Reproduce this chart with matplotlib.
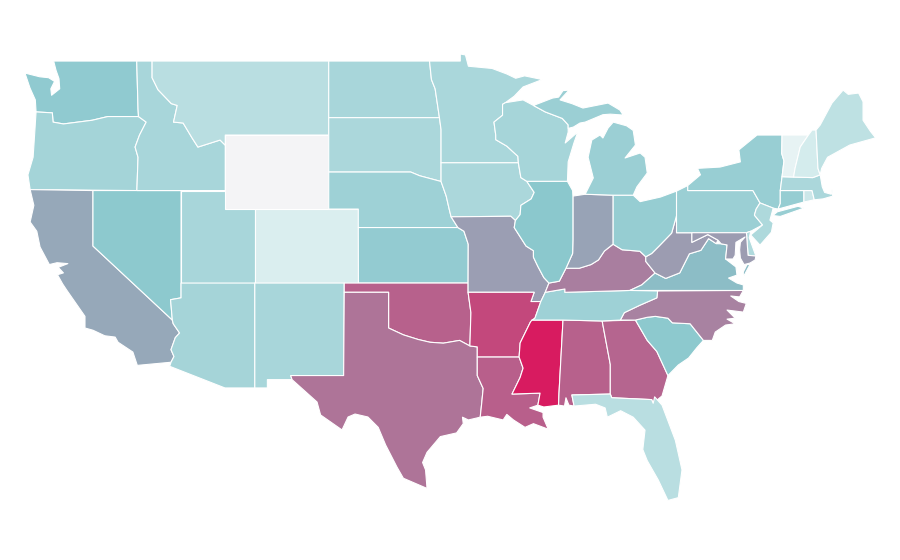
import matplotlib
matplotlib.use("Agg")
import matplotlib.pyplot as plt
from matplotlib.colors import LinearSegmentedColormap

# State values (0-100, estimated from the fill colours)
values = {
    "WA": 37, "OR": 30, "CA": 50.5, "ID": 28.5, "MT": 22, "WY": 0, "NV": 38, "UT": 28.5, "CO": 10,
    "AZ": 29.5, "NM": 28.5, "ND": 28.5, "SD": 27, "NE": 32, "KS": 36, "OK": 75, "TX": 68.5,
    "MN": 27.5, "IA": 27, "MO": 54, "AR": 84, "LA": 76, "MS": 100, "WI": 29, "IL": 39,
    "MI": 33, "IN": 52, "OH": 35, "KY": 65, "TN": 32, "AL": 75, "GA": 74, "FL": 22,
    "SC": 38, "NC": 64, "VA": 43, "WV": 55, "MD": 55, "DE": 25, "PA": 33, "NY": 34,
    "NJ": 26, "CT": 35, "RI": 15, "MA": 27, "VT": 5, "NH": 12, "ME": 20,
}

# State outlines as (longitude, latitude), drawn in a plate-carree style axes
outlines = {
    "WA": [[(-122.66,49),(-122.5,48.5),(-122.3,48.05),(-122.25,47.5),(-122.8,47.15),(-122.85,47.5),(-122.6,47.9),(-123.0,48.1),(-123.6,48.15),(-124.6,48.35),(-124.26,47.54),(-123.9,46.9),(-123.85,46.25),(-122.75,46.2),(-122.7,45.7),(-122.0,45.6),(-120.05,45.8),(-119.0,46.0),(-116.92,46.0),(-116.95,46.4),(-117.04,49)]],
    "OR": [[(-123.85,46.25),(-122.75,46.2),(-122.7,45.7),(-122.0,45.6),(-120.05,45.8),(-119.0,46.0),(-116.92,46.0),(-116.4,45.7),(-116.85,45.0),(-117.15,44.35),(-116.95,43.8),(-117.03,42),(-124.25,42.05),(-124.4,42.85),(-124.05,43.8),(-123.95,45)]],
    "CA": [[(-124.25,42.05),(-120,42),(-120,39),(-114.63,35.0),(-114.57,34.8),(-114.14,34.3),(-114.43,34.05),(-114.72,33.4),(-114.52,33.03),(-114.72,32.72),(-117.0,32.55),(-117.3,33.27),(-118.3,33.8),(-118.5,34.08),(-119.2,34.15),(-120.0,34.45),(-120.54,34.57),(-120.54,35.2),(-121.76,36.6),(-122.05,36.95),(-122.4,37.45),(-122.0,37.55),(-122.35,37.85),(-121.7,38.05),(-122.43,38.1),(-122.95,38.0),(-123.58,38.95),(-123.8,39.8),(-124.25,40.3),(-124.0,41.2)]],
    "NV": [[(-120,42),(-114.04,42),(-114.04,36.2),(-114.75,36.1),(-114.63,35.0),(-120,39)]],
    "ID": [[(-117.04,49),(-116.0,49),(-116.0,48.1),(-115.6,47.45),(-114.7,46.7),(-114.3,46.6),(-114.55,45.7),(-113.9,45.65),(-113.3,44.85),(-112.9,44.35),(-111.4,44.73),(-111.05,44.45),(-111.05,42),(-117.03,42),(-116.95,43.8),(-117.15,44.35),(-116.85,45.0),(-116.4,45.7),(-116.92,46.0),(-116.95,46.4)]],
    "MT": [[(-116.0,49),(-104.05,49),(-104.05,45),(-111.05,45),(-111.05,44.45),(-111.4,44.73),(-112.9,44.35),(-113.3,44.85),(-113.9,45.65),(-114.55,45.7),(-114.3,46.6),(-114.7,46.7),(-115.6,47.45),(-116.0,48.1)]],
    "WY": [[(-111.05,45),(-104.05,45),(-104.05,41),(-111.05,41)]],
    "UT": [[(-114.04,42),(-111.05,42),(-111.05,41),(-109.05,41),(-109.05,37),(-114.04,37)]],
    "CO": [[(-109.05,41),(-102.05,41),(-102.05,37),(-109.05,37)]],
    "AZ": [[(-114.04,37),(-109.05,37),(-109.05,31.33),(-111.07,31.33),(-114.81,32.5),(-114.72,32.72),(-114.52,33.03),(-114.72,33.4),(-114.43,34.05),(-114.14,34.3),(-114.57,34.8),(-114.63,35),(-114.75,36.1),(-114.04,36.2)]],
    "NM": [[(-109.05,37),(-103.0,37),(-103.04,32),(-106.62,32),(-106.53,31.78),(-108.2,31.78),(-108.2,31.33),(-109.05,31.33)]],
    "ND": [[(-104.05,49),(-97.23,49),(-97.1,48),(-96.85,47.5),(-96.56,45.94),(-104.05,45.94)]],
    "SD": [[(-104.05,45.94),(-96.56,45.94),(-96.45,45.3),(-96.45,43.5),(-96.45,42.49),(-97.9,42.8),(-98.5,43.0),(-104.05,43)]],
    "NE": [[(-104.05,43),(-98.5,43),(-97.9,42.8),(-96.45,42.49),(-96.1,41.7),(-95.9,41.0),(-95.77,40.58),(-95.31,40),(-102.05,40),(-102.05,41),(-104.05,41)]],
    "KS": [[(-102.05,40),(-95.31,40),(-94.9,39.8),(-94.61,39.1),(-94.62,37),(-102.04,37)]],
    "OK": [[(-103,37),(-94.62,37),(-94.62,36.5),(-94.43,35.4),(-94.5,33.6),(-95.2,33.9),(-96.3,33.75),(-97.2,33.8),(-98.0,33.95),(-99.0,34.2),(-100,34.57),(-100,36.5),(-103,36.5)]],
    "TX": [[(-103,36.5),(-100,36.5),(-100,34.57),(-99.0,34.2),(-98.0,33.95),(-97.2,33.8),(-96.3,33.75),(-95.2,33.9),(-94.5,33.6),(-94.0,33.55),(-94.0,32.0),(-93.6,31.3),(-93.7,30.5),(-93.8,29.75),(-94.6,29.6),(-95.0,29.75),(-94.95,29.4),(-95.4,28.9),(-96.5,28.7),(-97.4,27.85),(-97.7,27.3),(-97.5,26.9),(-97.4,25.9),(-99.0,26.45),(-99.43,27.05),(-100.2,28.25),(-100.7,29.2),(-101.4,29.76),(-102.27,29.92),(-102.74,29.76),(-103.15,29.06),(-104.6,29.87),(-104.84,30.57),(-106.0,31.4),(-106.53,31.78),(-106.62,32),(-103.04,32)]],
    "MN": [[(-97.23,49),(-95.15,49),(-95.15,49.38),(-94.8,49.33),(-94.6,48.72),(-93.0,48.6),(-92.0,48.3),(-91.4,48.07),(-90.8,48.2),(-89.6,48.0),(-90.9,47.6),(-91.5,47.1),(-92.1,46.75),(-92.29,46.66),(-92.29,46.07),(-92.87,45.7),(-92.75,45.0),(-92.75,44.75),(-92.0,44.4),(-91.25,43.85),(-91.22,43.5),(-96.45,43.5),(-96.45,45.3),(-96.56,45.94),(-96.85,47.5),(-97.1,48)]],
    "IA": [[(-96.45,43.5),(-91.22,43.5),(-91.05,42.7),(-90.65,42.5),(-90.15,41.9),(-90.35,41.55),(-91.05,41.2),(-91.1,40.7),(-91.42,40.38),(-91.73,40.61),(-95.77,40.58),(-95.9,41.0),(-96.1,41.7),(-96.45,42.49)]],
    "MO": [[(-95.77,40.58),(-91.73,40.61),(-91.42,40.38),(-91.5,40.0),(-90.7,39.0),(-90.2,38.75),(-90.2,38.4),(-89.9,37.9),(-89.5,37.3),(-89.15,37.0),(-89.4,36.5),(-89.7,36.0),(-90.37,36.0),(-90.15,36.5),(-94.62,36.5),(-94.62,37),(-94.61,39.1),(-94.9,39.8),(-95.31,40)]],
    "AR": [[(-94.62,36.5),(-90.15,36.5),(-90.37,36),(-89.7,36),(-90.1,35.1),(-90.4,34.9),(-91.1,33.76),(-91.17,33),(-94.0,33),(-94.0,33.55),(-94.5,33.6),(-94.43,35.4)]],
    "LA": [[(-94.0,33),(-91.17,33),(-91.1,32.85),(-90.9,32.4),(-91.1,31.9),(-91.65,31),(-89.75,31.05),(-89.9,30.4),(-90.45,30.25),(-89.55,30.0),(-89.55,29.75),(-89.2,29.1),(-90.2,29.4),(-90.77,29.2),(-91.55,29.6),(-92.0,29.9),(-92.25,29.6),(-93.3,29.8),(-93.8,29.75),(-93.7,30.5),(-93.6,31.3),(-94.0,32)]],
    "MS": [[(-90.4,34.9),(-90.3,35),(-88.2,35),(-88.47,31.05),(-88.5,30.4),(-89.5,30.3),(-89.9,30.4),(-89.75,31.05),(-91.65,31),(-91.1,31.9),(-90.9,32.4),(-91.1,32.85),(-91.17,33),(-91.1,33.76)]],
    "AL": [[(-88.2,35),(-85.55,34.95),(-85.0,32.6),(-85.0,31),(-87.6,30.95),(-87.45,30.35),(-87.8,30.4),(-88.0,30.8),(-88.1,30.35),(-88.5,30.4),(-88.47,31.05)]],
    "GA": [[(-85.55,34.95),(-83.3,35),(-82.5,33.9),(-81.85,33.3),(-81.1,32.0),(-81.5,30.9),(-82.1,30.5),(-82.2,30.7),(-84.9,30.8),(-85.0,31),(-85.0,32.6)]],
    "FL": [[(-87.6,30.95),(-85,31),(-84.9,30.8),(-82.2,30.7),(-82.1,30.5),(-82.0,30.85),(-81.5,30.4),(-80.6,28.5),(-80.15,26.9),(-80.4,25.4),(-81.1,25.25),(-81.75,26.35),(-82.5,27.4),(-82.8,28.0),(-82.65,29.05),(-83.45,29.75),(-84.3,30.1),(-85.2,29.75),(-85.35,30.25),(-86.0,30.45),(-87.45,30.35)]],
    "SC": [[(-83.3,35),(-82.5,35.15),(-81.95,35.2),(-81.1,35.1),(-80.8,34.85),(-79.6,34.8),(-78.7,33.9),(-79.15,33.5),(-79.7,32.95),(-80.4,32.57),(-81.1,32.0),(-81.85,33.3),(-82.5,33.9)]],
    "NC": [[(-81.8,36.57),(-76.0,36.6),(-76.25,36.25),(-76.85,36.3),(-76.3,36.0),(-75.8,35.9),(-76.0,35.43),(-77.1,35.54),(-76.55,35.1),(-77.1,35.05),(-76.55,34.8),(-77.2,34.73),(-77.9,34.35),(-78.1,33.9),(-78.7,33.9),(-79.6,34.8),(-80.8,34.85),(-81.1,35.1),(-81.95,35.2),(-82.5,35.15),(-83.3,35),(-84.32,35),(-84.05,35.4),(-83,35.8),(-81.85,36.2)]],
    "TN": [[(-90.3,35),(-88.2,35),(-85.55,34.95),(-84.32,35),(-84.05,35.4),(-83,35.8),(-81.85,36.2),(-81.8,36.57),(-83.68,36.6),(-88.07,36.5),(-88.07,36.68),(-89.4,36.5),(-89.7,36),(-90.1,35.1)]],
    "KY": [[(-89.4,36.5),(-88.07,36.68),(-88.07,36.5),(-83.68,36.6),(-82.87,36.9),(-81.97,37.54),(-82.6,38.17),(-82.6,38.42),(-83.0,38.72),(-84.2,38.8),(-84.8,39.1),(-85.4,38.73),(-85.8,38.25),(-86.3,38.0),(-87.1,37.8),(-88.0,37.8),(-88.45,37.1),(-89.15,37)]],
    "VA": [[(-83.68,36.6),(-76.0,36.6),(-76.0,36.9),(-76.43,37.0),(-77.0,37.27),(-76.43,37.43),(-76.5,37.87),(-77.2,38.3),(-77.1,39.06),(-77.5,39.12),(-77.83,39.13),(-78.35,39.4),(-78.87,38.77),(-79.65,38.58),(-80.3,37.55),(-81.25,37.25),(-81.97,37.54),(-82.87,36.9)],
           [(-76.0,37.33),(-76.0,37.6),(-75.75,38.0),(-75.55,38.0)]],
    "WV": [[(-81.97,37.54),(-81.25,37.25),(-80.3,37.55),(-79.65,38.58),(-78.87,38.77),(-78.35,39.4),(-77.83,39.13),(-77.72,39.32),(-78.4,39.62),(-79.48,39.2),(-79.48,39.72),(-80.52,39.72),(-80.52,40.64),(-80.85,39.7),(-81.7,39.0),(-82.2,38.6),(-82.6,38.42),(-82.6,38.17)]],
    "OH": [[(-84.82,41.75),(-83.45,41.75),(-82.98,41.4),(-81.6,41.65),(-80.52,41.97),(-80.52,40.64),(-80.85,39.7),(-81.7,39),(-82.2,38.6),(-82.6,38.42),(-83,38.72),(-84.2,38.8),(-84.82,39.1)]],
    "IN": [[(-87.53,41.7),(-86.7,41.8),(-84.82,41.75),(-84.82,39.1),(-85.4,38.73),(-85.8,38.25),(-86.3,38),(-87.1,37.8),(-88,37.8),(-87.55,38.6),(-87.53,39.35)]],
    "IL": [[(-90.65,42.5),(-87.9,42.5),(-87.55,42),(-87.53,41.7),(-87.53,39.35),(-87.55,38.6),(-88,37.8),(-88.45,37.1),(-89.15,37),(-89.5,37.3),(-89.9,37.9),(-90.2,38.4),(-90.2,38.75),(-90.7,39),(-91.5,40),(-91.42,40.38),(-91.1,40.7),(-91.05,41.2),(-90.35,41.55),(-90.15,41.9)]],
    "WI": [[(-92.29,46.66),(-92.1,46.75),(-90.9,46.9),(-90.2,46.6),(-89.4,46.25),(-88.25,45.9),(-87.85,45.55),(-87.85,45.16),(-88.05,44.57),(-87.2,45.16),(-87.45,44.6),(-87.85,43.55),(-87.9,42.5),(-90.65,42.5),(-91.05,42.7),(-91.22,43.5),(-91.25,43.85),(-92,44.4),(-92.75,44.75),(-92.75,45),(-92.87,45.7),(-92.29,46.07)]],
    "MI": [[(-90.2,46.6),(-88.9,47.0),(-88.5,47.05),(-88.2,47.4),(-87.79,47.43),(-88.4,46.9),(-87.6,46.7),(-86.85,46.46),(-85.15,46.73),(-84.35,46.35),(-84.13,46.08),(-85.0,46.13),(-85.5,46.1),(-86.7,45.7),(-87.05,45.65),(-87.5,45.43),(-87.85,45.36),(-87.85,45.55),(-88.25,45.9),(-89.4,46.25)],
           [(-84.8,45.7),(-83.9,45.5),(-83.45,45.25),(-83.3,44.46),(-84.0,43.76),(-82.98,44.03),(-82.65,43.8),(-82.5,42.95),(-83.2,42.2),(-83.45,41.75),(-84.82,41.75),(-86.7,41.8),(-86.15,42.68),(-86.5,43.8),(-86.25,44.73),(-85.7,45.0),(-85.5,44.84),(-85.15,45.38)]],
    "PA": [[(-80.52,41.97),(-79.76,42.27),(-79.76,42),(-75.35,42),(-74.87,41.33),(-75.13,41.0),(-75.25,40.67),(-74.7,40.14),(-75.5,39.8),(-75.79,39.72),(-80.52,39.72),(-80.52,40.64)]],
    "NY": [[(-79.76,42.27),(-78.9,42.85),(-79.1,43.2),(-77.57,43.27),(-76.2,43.55),(-76.3,44.2),(-75.07,45),(-73.38,45),(-73.4,44),(-73.25,43.6),(-73.38,42.75),(-73.5,42.0),(-73.5,41.3),(-73.65,41),(-73.98,41.05),(-74.87,41.33),(-75.35,42),(-79.76,42)],
           [(-74.0,40.65),(-73.7,40.85),(-72.3,41.15),(-71.9,41.05),(-73.5,40.6)]],
    "NJ": [[(-74.87,41.33),(-73.98,41.05),(-74.2,40.4),(-73.98,40.25),(-74.1,39.75),(-74.87,39.05),(-75.5,39.6),(-74.7,40.14),(-75.25,40.67),(-75.13,41)]],
    "DE": [[(-75.79,39.72),(-75.5,39.8),(-75.6,39.45),(-75.15,38.46),(-75.68,38.5)]],
    "MD": [[(-79.48,39.72),(-75.79,39.72),(-75.68,38.5),(-75.15,38.46),(-75.2,38.25),(-75.55,38.08),(-75.95,38.0),(-76.2,38.35),(-76.25,38.8),(-76.2,39.2),(-75.88,39.49),(-76.5,39.2),(-76.55,38.5),(-76.7,38.3),(-77.2,38.3),(-77.1,39.06),(-77.5,39.12),(-77.72,39.32),(-78.4,39.62),(-79.48,39.2)]],
    "CT": [[(-73.5,42.0),(-71.9,42.0),(-71.9,41.38),(-73.65,41),(-73.5,41.3)]],
    "RI": [[(-71.9,42.0),(-71.35,42.0),(-71.2,41.5),(-71.9,41.38)]],
    "MA": [[(-73.5,42.0),(-73.38,42.75),(-72.6,42.73),(-71.3,42.7),(-70.8,42.85),(-70.66,42.2),(-70.5,41.9),(-70.05,41.8),(-70.0,42.05),(-69.95,41.7),(-70.6,41.55),(-71.2,41.5),(-71.35,42.0),(-71.9,42.0)]],
    "VT": [[(-73.38,45),(-71.6,45),(-72.15,44.35),(-72.5,43.2),(-72.6,42.73),(-73.38,42.75),(-73.25,43.6),(-73.4,44)]],
    "NH": [[(-71.6,45),(-71.35,45.27),(-71.08,45.27),(-70.95,43.2),(-70.8,42.85),(-71.3,42.7),(-72.6,42.73),(-72.5,43.2),(-72.15,44.35)]],
    "ME": [[(-71.08,45.27),(-70.8,45.54),(-70.0,46.73),(-69.25,47.43),(-68.9,47.2),(-68.2,47.27),(-67.9,46.8),(-67.9,45.8),(-67.4,45.2),(-67.05,44.85),(-68.8,44.46),(-70.3,43.8),(-70.7,43.2),(-70.8,42.85),(-70.95,43.2)]],
}

cmap = LinearSegmentedColormap.from_list(
    "scale", [(0.0, "#f4f4f6"), (0.05, "#e6f3f4"), (0.1, "#d9eeef"), (0.4, "#88c6cc"), (1.0, "#d81b60")]
)

fig = plt.figure(figsize=(9, 5.6), dpi=100)
ax = fig.add_axes([0, 0, 1, 1])
for state, parts in outlines.items():
    for part in parts:
        lon, lat = zip(*part)
        ax.fill(lon, lat, facecolor=cmap(values[state] / 100), edgecolor="white",
                linewidth=0.8, joinstyle="round", label=state)
ax.set_xlim(-126.29, -65.40)
ax.set_ylim(22.03, 52.30)
ax.axis("off")
fig.savefig("out.png", dpi=100, facecolor="white")
